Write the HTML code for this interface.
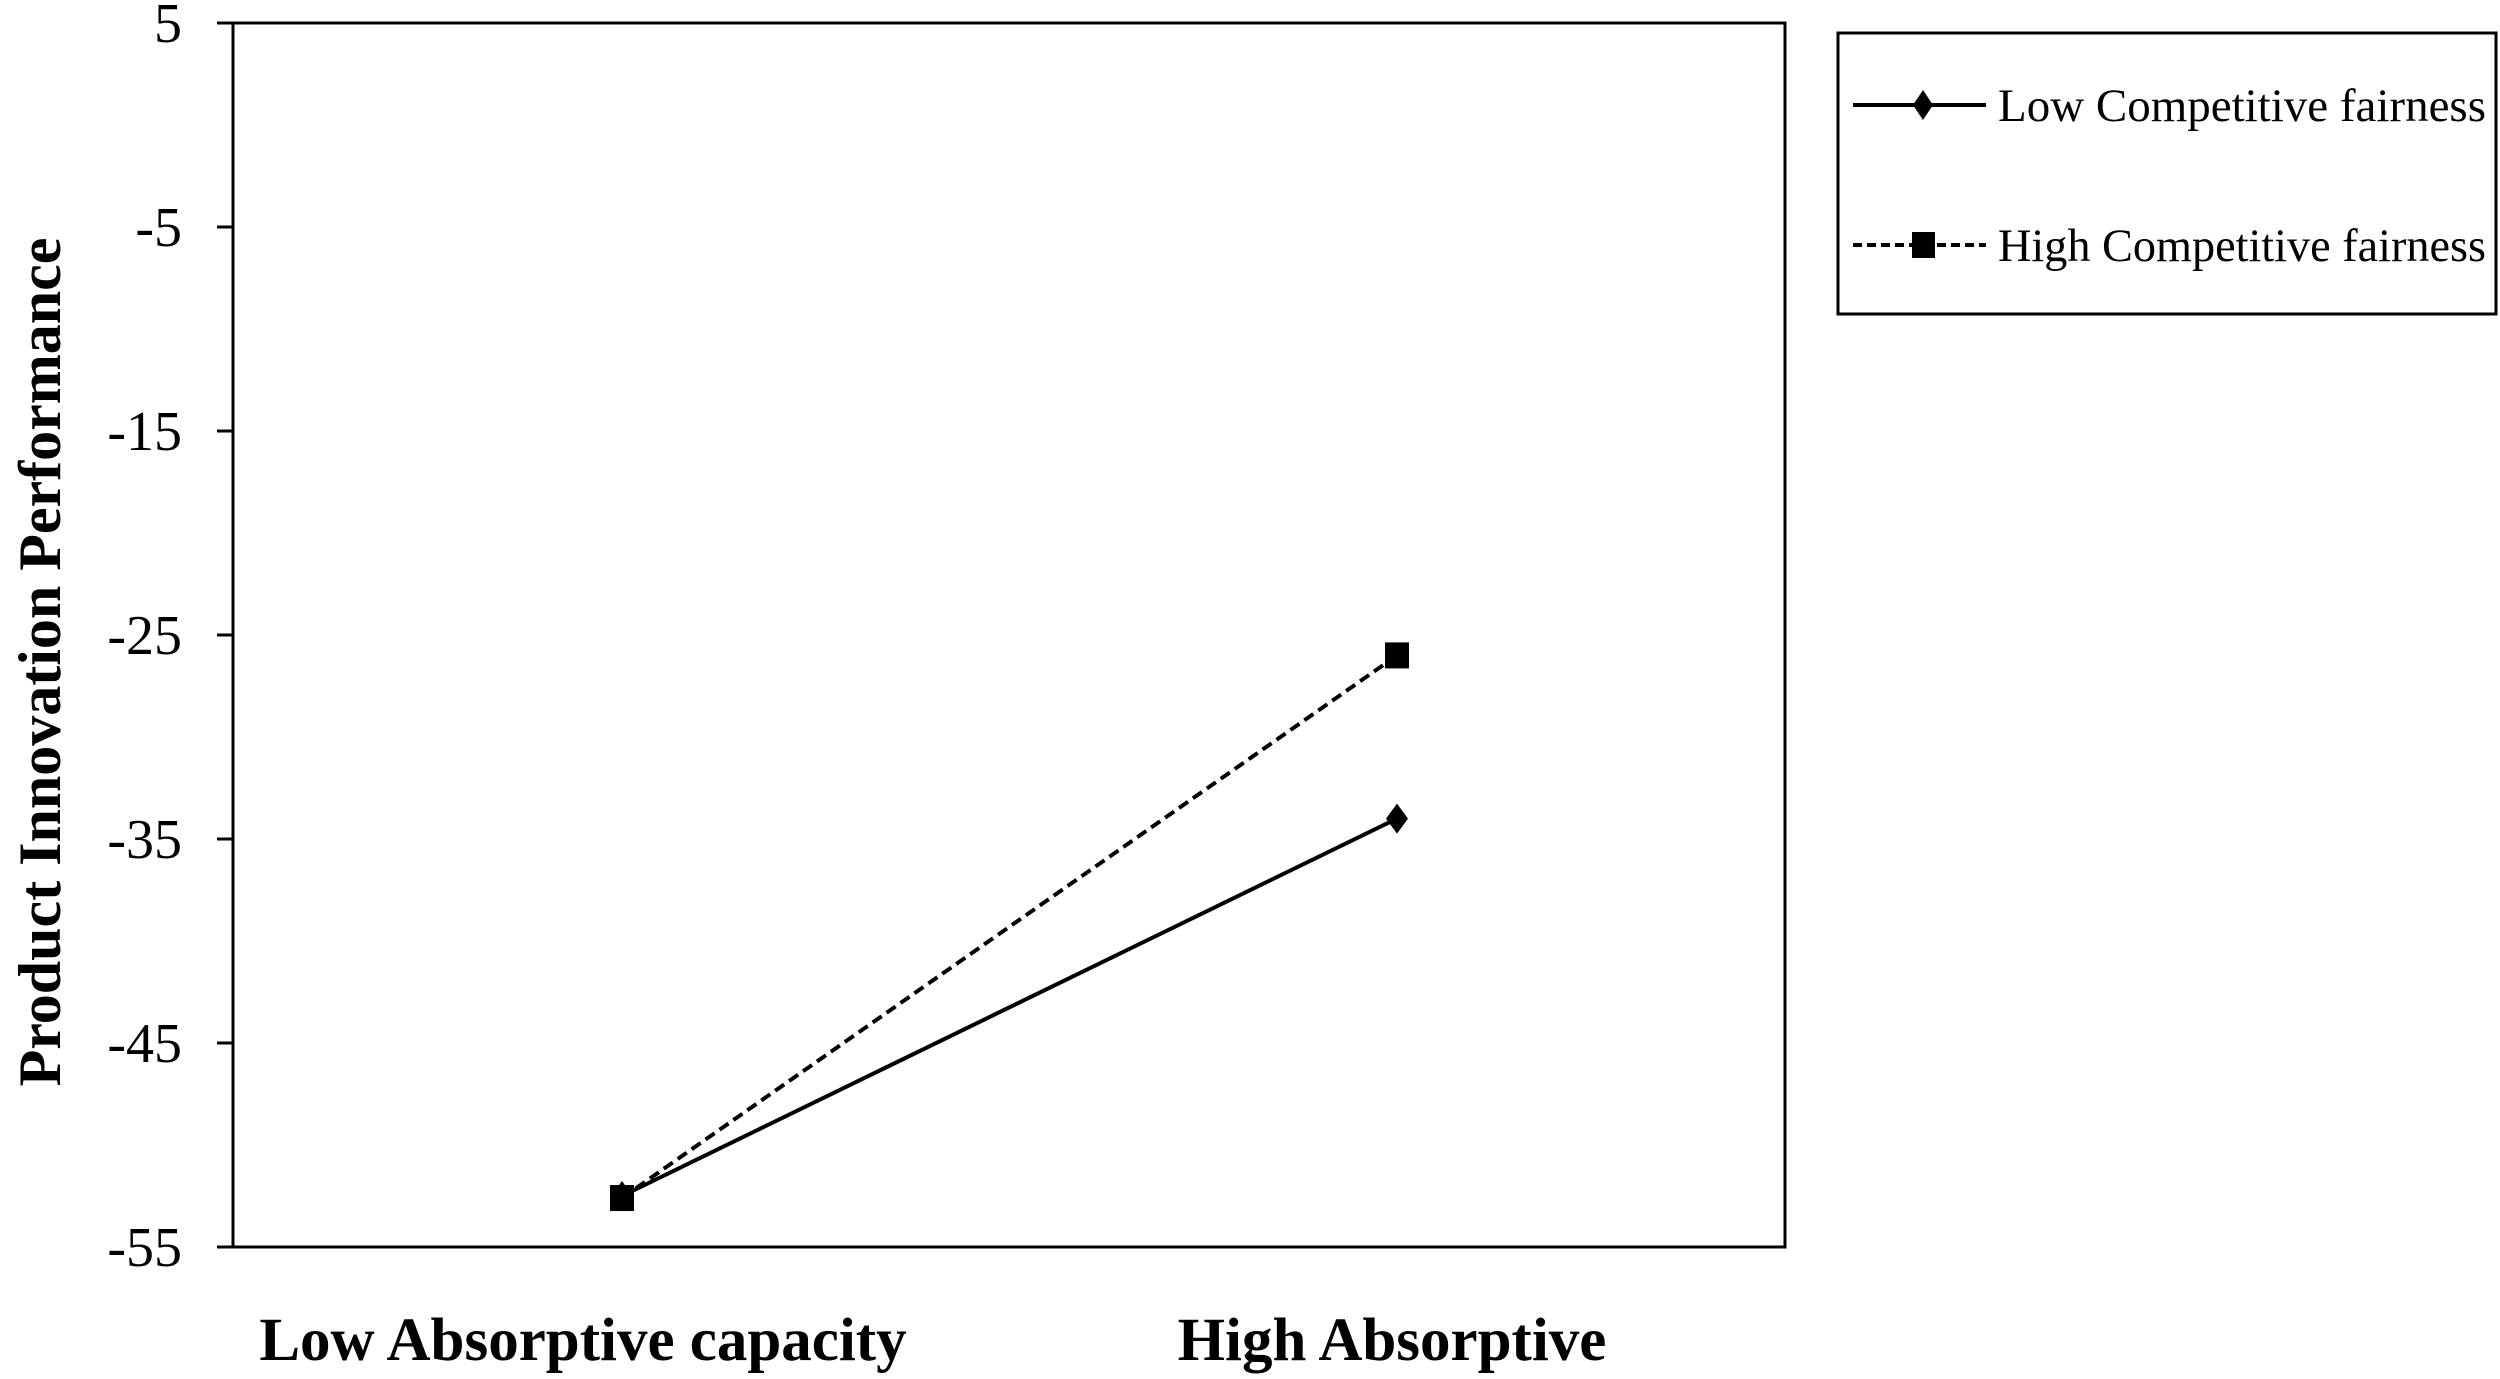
<!DOCTYPE html>
<html><head><meta charset="utf-8"><style>
body{margin:0;background:#fff;}
svg text{font-family:"Liberation Serif",serif;fill:#000;}
</style></head><body>
<svg id="chart" width="2500" height="1374" viewBox="0 0 2500 1374" xmlns="http://www.w3.org/2000/svg">
<g id="axes"></g>
<g id="series"></g>
<text x="46" y="662" transform="rotate(-90 46 662)" text-anchor="middle" dominant-baseline="middle" font-size="60" font-weight="bold">Product Innovation Performance</text>
<g>
<rect x="1838" y="33" width="658" height="281" fill="none" stroke="#000" stroke-width="3"/>
<g>
<line x1="1853" y1="105" x2="1986" y2="105" stroke="#000" stroke-width="4"/>
<polygon points="1923,90 1933,105 1923,120 1913,105" fill="#000"/>
<text x="1998" y="121" font-size="47" textLength="488" lengthAdjust="spacingAndGlyphs">Low  Competitive fairness</text>
</g>
<g>
<line x1="1853" y1="245" x2="1986" y2="245" stroke="#000" stroke-width="4" stroke-dasharray="9,5"/>
<rect x="1912" y="232" width="23" height="26" fill="#000"/>
<text x="1998" y="261" font-size="47" textLength="488" lengthAdjust="spacingAndGlyphs">High Competitive fairness</text>
</g>
</g>
</svg>
<script>
const categories = ["Low Absorptive capacity", "High Absorptive"];
const lowFairness = [-52.5, -34];
const highFairness = [-52.6, -26];
const yTicks = [5, -5, -15, -25, -35, -45, -55];

const L=233, R=1785, T=23, B=1247, yMax=5, yMin=-55;
const catX=[622,1397];
const y = v => T + (yMax - v) / (yMax - yMin) * (B - T);
const x = i => catX[i];
const NS="http://www.w3.org/2000/svg";
function mk(tag, attrs, parent){const e=document.createElementNS(NS,tag);for(const k in attrs)e.setAttribute(k,attrs[k]);parent.appendChild(e);return e;}
const axes=document.getElementById('axes'), series=document.getElementById('series');
let frame=mk('rect',{x:L,y:T,width:R-L,height:B-T,fill:'none',stroke:'#000','stroke-width':3},axes);


yTicks.forEach(t=>{
  const tk=mk('line',{x1:217,x2:L,y1:y(t),y2:y(t),stroke:'#000','stroke-width':3},axes);
  
  
  const lb=mk('text',{x:182,y:y(t)+19,'text-anchor':'end','font-size':56},axes);
  lb.textContent=String(t);
  
  
});
categories.forEach((c,i)=>{
  const lb=mk('text',{x:[583,1392][i],y:1360,'text-anchor':'middle','font-size':61,'font-weight':'bold'},axes);
  lb.textContent=c;
  
  
});
const hl=mk('line',{x1:x(0),y1:y(highFairness[0]),x2:x(1),y2:y(highFairness[1]),stroke:'#000','stroke-width':4,'stroke-dasharray':'11,6'},series);


const ll=mk('line',{x1:x(0),y1:y(lowFairness[0]),x2:x(1),y2:y(lowFairness[1]),stroke:'#000','stroke-width':4},series);


lowFairness.forEach((v,i)=>{
  const cx=x(i), cy=y(v);
  const d=mk('polygon',{points:`${cx},${cy-15} ${cx+11},${cy} ${cx},${cy+15} ${cx-11},${cy}`,fill:'#000'},series);
  
  
});
highFairness.forEach((v,i)=>{
  const cx=x(i), cy=y(v);
  const s=mk('rect',{x:cx-12,y:cy-13,width:24,height:26,fill:'#000'},series);
  
  
});
</script>
</body></html>
